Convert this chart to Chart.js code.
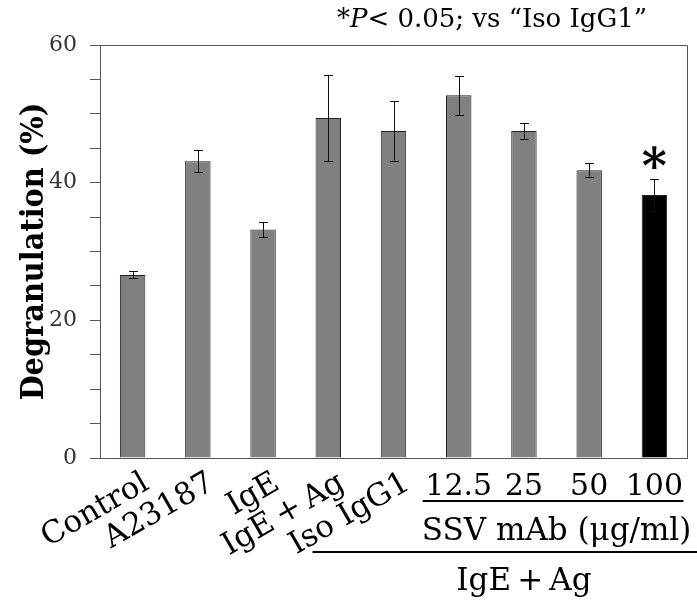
<!DOCTYPE html>
<html>
<head>
<meta charset="utf-8">
<title>Degranulation</title>
<script src="https://cdn.jsdelivr.net/npm/chart.js"></script>
<style>
    body { margin: 0; background: #fff; }
    .chart-container { width: 697px; height: 605px; position: relative; }
</style>
</head>
<body>
<div class="chart-container">
    <canvas id="degranChart"></canvas>
</div>
<script>
// 카테고리 (앞 5개는 기울여 표시, 뒤 4개는 SSV mAb 농도)
const labels = ['Control', 'A23187', 'IgE', 'IgE\u2009+\u2009Ag', 'Iso IgG1', '12.5', '25', '50', '100'];
// 평균 degranulation (%)
const means = [26.6, 43.1, 33.2, 49.4, 47.5, 52.7, 47.5, 41.8, 38.2];
// 오차 (±)
const errors = [0.5, 1.6, 1.1, 6.3, 4.3, 2.8, 1.2, 1.0, 2.3];
// 유의성 표시 (vs Iso IgG1)
const significant = [false, false, false, false, false, false, false, false, true];
const yTicks = [0, 20, 40, 60];

const SERIF = "'DejaVu Serif', serif";
const SERIF_COND = "'DejaVu Serif Condensed', 'DejaVu Serif', serif";
const AXIS_COLOR = '#555';
const rotatedCount = 5;

// 오차 막대
const errorBarPlugin = {
    id: 'errorBars',
    afterDatasetsDraw(chart) {
        const ctx = chart.ctx;
        const y = chart.scales.y;
        const meta = chart.getDatasetMeta(0);
        ctx.save();
        ctx.strokeStyle = '#111';
        ctx.lineWidth = 1;
        meta.data.forEach((bar, i) => {
            const x = Math.round(bar.x) + 0.5;
            const top = Math.round(y.getPixelForValue(means[i] + errors[i])) + 0.5;
            const bot = Math.round(y.getPixelForValue(means[i] - errors[i])) + 0.5;
            ctx.beginPath();
            ctx.moveTo(x, top); ctx.lineTo(x, bot);
            ctx.moveTo(x - 4.5, top); ctx.lineTo(x + 4.5, top);
            ctx.moveTo(x - 4.5, bot); ctx.lineTo(x + 4.5, bot);
            ctx.stroke();
        });
        ctx.restore();
    }
};

// 텍스트, 테두리, 밑줄
const annotationPlugin = {
    id: 'annotations',
    afterDraw(chart) {
        const ctx = chart.ctx;
        const area = chart.chartArea;
        const x = chart.scales.x;
        const y = chart.scales.y;
        ctx.save();

        // 위/오른쪽 테두리
        ctx.strokeStyle = AXIS_COLOR;
        ctx.lineWidth = 1;
        ctx.beginPath();
        ctx.moveTo(area.left, Math.round(area.top) + 0.5);
        ctx.lineTo(Math.round(area.right) + 0.5, Math.round(area.top) + 0.5);
        ctx.lineTo(Math.round(area.right) + 0.5, area.bottom);
        ctx.stroke();

        ctx.fillStyle = '#000';

        // y축 제목
        ctx.save();
        ctx.translate(43, (area.top + area.bottom) / 2);
        ctx.rotate(-Math.PI / 2);
        ctx.font = 'bold 32px ' + SERIF_COND;
        ctx.textAlign = 'center';
        ctx.textBaseline = 'alphabetic';
        ctx.fillText('Degranulation (%)', 0, 0);
        ctx.restore();

        // 기울어진 x 라벨
        ctx.font = '31px ' + SERIF;
        for (let i = 0; i < rotatedCount; i++) {
            ctx.save();
            ctx.translate(x.getPixelForValue(i) + 14, area.bottom + 23);
            ctx.rotate(-Math.PI / 6);
            ctx.textAlign = 'right';
            ctx.textBaseline = 'middle';
            ctx.fillText(labels[i], 0, 0);
            ctx.restore();
        }

        // 농도 라벨
        ctx.font = '30px ' + SERIF;
        ctx.textAlign = 'center';
        ctx.textBaseline = 'alphabetic';
        for (let i = rotatedCount; i < labels.length; i++) {
            ctx.fillText(labels[i], x.getPixelForValue(i), area.bottom + 37);
        }
        const first = x.getPixelForValue(rotatedCount);
        const last = x.getPixelForValue(labels.length - 1);
        ctx.strokeStyle = '#000';
        ctx.lineWidth = 2;
        ctx.beginPath();
        ctx.moveTo(first - 36, area.bottom + 43);
        ctx.lineTo(last + 29, area.bottom + 43);
        ctx.stroke();

        ctx.font = '31px ' + SERIF;
        ctx.fillText('SSV mAb (μg/ml)', (first + last) / 2, area.bottom + 82);

        const iso = x.getPixelForValue(rotatedCount - 1);
        ctx.beginPath();
        ctx.moveTo(iso - 81, area.bottom + 94);
        ctx.lineTo(chart.width, area.bottom + 94);
        ctx.stroke();

        ctx.fillText(labels[3], (iso + last) / 2, area.bottom + 132);

        // 유의성 별표
        ctx.font = 'bold 48px ' + SERIF;
        significant.forEach((s, i) => {
            if (!s) return;
            ctx.fillText('*', x.getPixelForValue(i), y.getPixelForValue(means[i] + errors[i]) + 4);
        });

        // 상단 주석: *P< 0.05; vs “Iso IgG1”
        const parts = [
            { text: '*', font: '26px ' + SERIF },
            { text: 'P', font: 'italic 26px ' + SERIF },
            { text: '< 0.05; vs “Iso IgG1”', font: '26px ' + SERIF }
        ];
        let total = 0;
        parts.forEach(p => { ctx.font = p.font; total += ctx.measureText(p.text).width; });
        let tx = area.right - 40 - total;
        ctx.textAlign = 'left';
        parts.forEach(p => {
            ctx.font = p.font;
            ctx.fillText(p.text, tx, 27);
            tx += ctx.measureText(p.text).width;
        });

        ctx.restore();
    }
};

new Chart(document.getElementById('degranChart'), {
    type: 'bar',
    data: {
        labels: labels,
        datasets: [{
            data: means,
            backgroundColor: significant.map(s => s ? '#000000' : '#808080'),
            borderColor: '#222',
            borderWidth: 1,
            barPercentage: 0.39,
            categoryPercentage: 1.0
        }]
    },
    options: {
        responsive: true,
        maintainAspectRatio: false,
        animation: false,
        layout: { padding: { top: 45, right: 10, left: 0, bottom: 0 } },
        plugins: {
            legend: { display: false },
            tooltip: { enabled: false }
        },
        scales: {
            x: {
                grid: { display: false },
                border: { display: true, color: AXIS_COLOR, width: 1 },
                ticks: { display: false },
                afterFit(scale) { scale.height = 147; }
            },
            y: {
                min: 0,
                max: 60,
                grid: { drawOnChartArea: false, drawTicks: true, tickLength: 10, color: AXIS_COLOR },
                border: { display: true, color: AXIS_COLOR, width: 1 },
                ticks: {
                    stepSize: 5,
                    autoSkip: false,
                    padding: 13,
                    color: '#333',
                    font: { family: SERIF, size: 22 },
                    callback: v => yTicks.includes(v) ? v : ''
                },
                afterFit(scale) { scale.width = 100; }
            }
        }
    },
    plugins: [errorBarPlugin, annotationPlugin]
});
</script>
</body>
</html>
